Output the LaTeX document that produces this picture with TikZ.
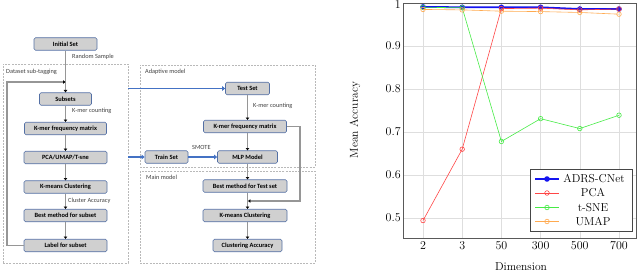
\documentclass[tikz,border=0pt]{standalone}
\usepackage{fontspec}
\newfontfamily\calfont{Carlito}
\usetikzlibrary{arrows.meta}
\definecolor{boxfill}{RGB}{208,208,208}
\definecolor{boxdraw}{RGB}{84,112,165}
\definecolor{flowgray}{RGB}{150,150,150}
\definecolor{flowblue}{RGB}{68,114,196}
\definecolor{gridgray}{RGB}{222,222,222}
\definecolor{legframe}{RGB}{70,70,70}
\definecolor{pcared}{RGB}{255,70,70}
\definecolor{snegreen}{RGB}{70,235,70}
\definecolor{umaporange}{RGB}{255,170,80}
\definecolor{adrsblue}{RGB}{20,20,240}
\tikzset{
  flowbox/.style={draw=boxdraw, line width=0.7pt, fill=boxfill, rounded corners=1.5pt,
    inner sep=0pt, minimum height=12.5pt, font=\calfont\bfseries\fontsize{6.4}{7}\selectfont},
  grpbox/.style={draw=gray!55, dash pattern=on 2pt off 1.2pt, line width=0.5pt, inner sep=0pt},
  smalllbl/.style={font=\calfont\fontsize{6.3}{7}\selectfont, text=black!75, inner sep=0pt, anchor=west},
  flowline/.style={draw=flowgray, line width=1.1pt, -{Triangle[color=black,length=2.4pt,width=3.4pt]}},
  blueline/.style={draw=flowblue, line width=1.8pt, -{Triangle[length=3pt,width=4.5pt]}},
  chartfont/.style={font=\fontsize{11.5}{13}\selectfont},
  gridline/.style={draw=gridgray, line width=0.5pt},
  openmark/.style={line width=0.6pt}
}
\begin{document}
\begin{tikzpicture}[x=1pt,y=-1pt]
\useasboundingbox (0,0) rectangle (640,270);

% ---------- group boxes ----------
\node[grpbox, minimum width=125pt, minimum height=199pt] (ds) at (65.5,163.5) {};
\node[grpbox, minimum width=175pt, minimum height=102pt] (ad) at (227.5,116) {};
\node[grpbox, minimum width=175pt, minimum height=92pt] (mm) at (227.5,217) {};
\node[smalllbl] (dst) at (6,72) {Dataset sub-tagging};
\node[smalllbl] (adt) at (145,72) {Adaptive model};
\node[smalllbl] (mmt) at (146,177) {Main model};

% ---------- left column ----------
\node[flowbox, minimum width=63pt] (init) at (65.5,44) {Initial Set};
\node[flowbox, minimum width=52pt] (sub) at (65.5,99) {Subsets};
\node[flowbox, minimum width=82pt] (kmA) at (65.5,128.5) {K-mer frequency matrix};
\node[flowbox, minimum width=83pt] (pca) at (65.5,157.5) {PCA/UMAP/T-sne};
\node[flowbox, minimum width=83pt] (kmeA) at (65.5,187) {K-means Clustering};
\node[flowbox, minimum width=83pt] (bestA) at (65.5,215.5) {Best method for subset};
\node[flowbox, minimum width=83pt] (label) at (65.5,245.5) {Label for subset};

\node[smalllbl] (rs) at (72,57) {Random Sample};
\node[smalllbl] (kc1) at (72,111) {K-mer counting};
\node[smalllbl] (ca) at (68,201) {Cluster Accuracy};

\coordinate (j) at (65.5,82);
\coordinate (loopc) at (7,82);
\draw[flowline] (init) -- (sub);
\draw[flowline] (label.west) -| (loopc) -- (j);
\draw[flowline] (sub) -- (kmA);
\draw[flowline] (kmA) -- (pca);
\draw[flowline] (pca) -- (kmeA);
\draw[flowline] (kmeA) -- (bestA);
\draw[flowline] (bestA) -- (label);

% ---------- right column ----------
\node[flowbox, minimum width=44pt] (test) at (247.5,88.5) {Test Set};
\node[flowbox, minimum width=83pt] (kmB) at (245,126.5) {K-mer frequency matrix};
\node[flowbox, minimum width=60pt] (mlp) at (247.5,157) {MLP Model};
\node[flowbox, minimum width=43pt] (train) at (166.5,157) {Train Set};
\node[flowbox, minimum width=84pt] (bestB) at (245,186) {Best method for Test set};
\node[flowbox, minimum width=84pt] (kmeB) at (245,215.5) {K-means Clustering};
\node[flowbox, minimum width=69pt] (acc) at (247.5,245.5) {Clustering Accuracy};

\node[smalllbl] (kc2) at (253,106) {K-mer counting};
\node[smalllbl] (smote) at (192,147) {SMOTE};

\draw[flowline] (test.south) -- (test.south |- kmB.north);
\draw[flowline] (test.south |- kmB.south) -- (mlp.north);
\draw[flowline] (mlp.south) -- (mlp.south |- bestB.north);
\draw[flowline] (mlp.south |- bestB.south) -- (mlp.south |- kmeB.north);
\draw[flowline] (mlp.south |- kmeB.south) -- (acc.north);
\coordinate (rc) at (300,126.5);
\coordinate (rj) at (248,201);
\draw[flowline] (kmB.east) -- (rc) |- (rj);

\draw[blueline] (ds.east |- test.west) -- (test.west);
\draw[blueline] (ds.east |- train.west) -- (train.west);
\draw[blueline] (train.east) -- (mlp.west);

% ---------- chart ----------
\begin{scope}[shift={(423pt,-433pt)}, x=39.2pt, y=430pt]
  \foreach \i in {0,...,5} \draw[gridline] (\i,0.452) -- (\i,1);
  \foreach \v in {0.5,0.6,0.7,0.8,0.9} \draw[gridline] (-0.5,\v) -- (5.45,\v);
  \draw[black!65, line width=0.6pt] (-0.5,0.452) rectangle (5.45,1);
  \foreach \v/\t in {0.5/0.5,0.6/0.6,0.7/0.7,0.8/0.8,0.9/0.9}
    \node[chartfont, anchor=east, inner sep=2.5pt] at (-0.5,\v) {$\t$};
  \node[chartfont, anchor=east, inner sep=2.5pt, yshift=-1.2pt] at (-0.5,1) {$1$};
  \foreach \i/\t in {0/2,1/3,2/50,3/300,4/500,5/700}
    \node[chartfont, anchor=north, inner sep=3pt] at (\i,0.452) {$\t$};

  % ADRS-CNet
  \draw[adrsblue, line width=1.8pt] plot coordinates {(0,0.991)(1,0.990)(2,0.990)(3,0.990)(4,0.986)(5,0.986)};
  \foreach \p in {(0,0.991),(1,0.990),(2,0.990),(3,0.990),(4,0.986),(5,0.986)}
    \fill[adrsblue] \p circle (2.8pt);
  % PCA
  \draw[pcared, line width=0.6pt] plot coordinates {(0,0.494)(1,0.660)(2,0.987)(3,0.988)(4,0.984)(5,0.986)};
  \foreach \p in {(0,0.494),(1,0.660),(2,0.987),(3,0.988),(4,0.984),(5,0.986)}
    \draw[pcared, openmark] \p circle (2.3pt);
  % t-SNE
  \draw[snegreen, line width=0.6pt] plot coordinates {(0,0.990)(1,0.989)(2,0.678)(3,0.731)(4,0.708)(5,0.739)};
  \foreach \p in {(0,0.990),(1,0.989),(2,0.678),(3,0.731),(4,0.708),(5,0.739)}
    \draw[snegreen, openmark] \p circle (2.3pt);
  % UMAP
  \draw[umaporange, line width=0.6pt] plot coordinates {(0,0.985)(1,0.984)(2,0.981)(3,0.980)(4,0.978)(5,0.974)};
  \foreach \p in {(0,0.985),(1,0.984),(2,0.981),(3,0.980),(4,0.978),(5,0.974)}
    \draw[umaporange, openmark] \p circle (2.3pt);
\end{scope}

\node[chartfont, rotate=90] (ylab) at (355,120) {Mean Accuracy};
\node[chartfont] (xlab) at (521,267) {Dimension};

% legend
\node[draw=legframe, line width=0.9pt, fill=white, minimum width=102pt, minimum height=62pt, inner sep=0pt] (leg) at (581,200) {};
\draw[adrsblue, line width=1.8pt] (535,179) -- (559,179);
\fill[adrsblue] (547,179) circle (2.8pt);
\draw[pcared, line width=0.6pt] (535,193) -- (559,193);
\draw[pcared, openmark] (547,193) circle (2.3pt);
\draw[snegreen, line width=0.6pt] (535,207.5) -- (559,207.5);
\draw[snegreen, openmark] (547,207.5) circle (2.3pt);
\draw[umaporange, line width=0.6pt] (535,221.5) -- (559,221.5);
\draw[umaporange, openmark] (547,221.5) circle (2.3pt);
\node[chartfont] (l1) at (594,179) {ADRS-CNet};
\node[chartfont] (l2) at (593,193) {PCA};
\node[chartfont] (l3) at (593,207.5) {t-SNE};
\node[chartfont] (l4) at (593,221.5) {UMAP};
\end{tikzpicture}
\end{document}
